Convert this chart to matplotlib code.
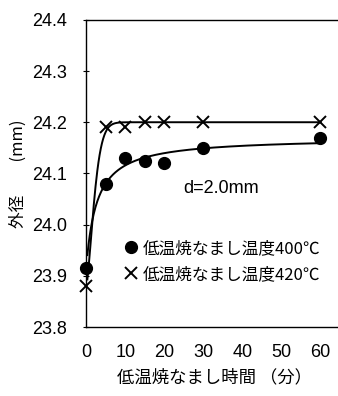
import numpy as np
import matplotlib.pyplot as plt

plt.rcParams['font.family'] = ['Liberation Sans', 'Noto Sans CJK JP', 'DejaVu Sans']
CJK = ['Noto Sans CJK JP', 'DejaVu Sans']

# annealing time (min)
t = [0, 5, 10, 15, 20, 30, 60]
# outer diameter (mm)
d_400 = [23.915, 24.08, 24.13, 24.125, 24.12, 24.15, 24.17]
d_420 = [23.88, 24.19, 24.19, 24.20, 24.20, 24.20, 24.20]

# trend line for 420C: top - drop*exp(-(x/tau)^p)
trend_420 = {'top': 24.20, 'drop': 0.32, 'tau': 2.5, 'p': 1.5}

label_400 = '低温焼なまし温度400℃'
label_420 = '低温焼なまし温度420℃'
xticks = [0, 10, 20, 30, 40, 50, 60]
yticks = [23.8, 23.9, 24.0, 24.1, 24.2, 24.3, 24.4]


def fit_curve(x, y, xs):
    # saturating trend y = a + b*x/(c+x), c by grid search, a/b by least squares
    x = np.asarray(x, float)
    y = np.asarray(y, float)
    best = None
    for c in np.linspace(0.05, 20, 800):
        A = np.column_stack([np.ones_like(x), x / (c + x)])
        coef, *_ = np.linalg.lstsq(A, y, rcond=None)
        sse = np.sum((A @ coef - y) ** 2)
        if best is None or sse < best[0]:
            best = (sse, c, coef)
    _, c, (a, b) = best
    return a + b * xs / (c + xs)


fig = plt.figure(figsize=(3.38, 3.96), dpi=100)
ax = fig.add_axes([0.255, 0.174, 0.745, 0.776])

xs = np.linspace(0.3, 60, 400)
ax.plot(xs, fit_curve(t, d_400, xs), color='black', lw=1.4)
tr = trend_420
ax.plot(xs, tr['top'] - tr['drop'] * np.exp(-(xs / tr['tau']) ** tr['p']),
        color='black', lw=1.4)

ax.plot(t, d_400, 'o', color='black', ms=8.5, label=label_400, clip_on=False)
ax.plot(t, d_420, 'x', color='black', ms=8, mew=1.4, label=label_420, clip_on=False)

ax.set_xlim(0, 64.5)
ax.set_ylim(23.8, 24.4)
ax.set_xticks(xticks)
ax.set_yticks(yticks)
ax.set_yticklabels([f'{v:.1f}' for v in yticks])
ax.tick_params(axis='x', length=0, labelsize=13, pad=12)
ax.tick_params(axis='y', direction='inout', length=5, labelsize=13, pad=11)
ax.spines['right'].set_visible(False)
for s in ['left', 'top', 'bottom']:
    ax.spines[s].set_linewidth(1.0)

fig.text(0.541, 0.525, 'd=2.0mm', fontsize=13, va='center')

ax.legend(loc='upper left', bbox_to_anchor=(0.345, 0.415),
          bbox_transform=fig.transFigure, frameon=False,
          handlelength=0.7, handletextpad=0.35, labelspacing=0.55,
          borderpad=0, prop={'family': CJK, 'size': 12})

ax.set_xlabel('低温焼なまし時間 （分）', fontsize=12.5, family=CJK, labelpad=6)
ax.xaxis.set_label_coords(0.51, -0.135)
ax.set_ylabel('外径\u3000\u3000(mm)', fontsize=12, family=CJK, labelpad=4)

fig.savefig('out.png', dpi=100)
